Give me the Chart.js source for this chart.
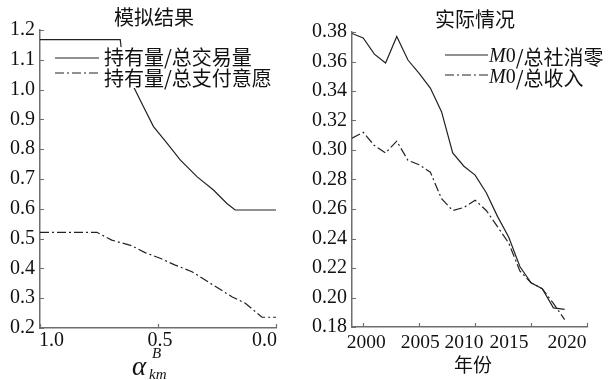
<!DOCTYPE html>
<html>
<head>
<meta charset="utf-8">
<script src="https://cdn.jsdelivr.net/npm/chart.js@4/dist/chart.umd.min.js"></script>
<style>
  html, body { margin: 0; padding: 0; background: #fff; }
  #wrap { position: relative; width: 610px; height: 380px; background: #fff; }
  #simBox { position: absolute; left: 0; top: 0; width: 300px; height: 380px; }
  #realBox { position: absolute; left: 300px; top: 0; width: 310px; height: 380px; }
</style>
</head>
<body>
<div id="wrap">
  <div id="simBox"><canvas id="sim" width="300" height="380"></canvas></div>
  <div id="realBox"><canvas id="real" width="310" height="380"></canvas></div>
</div>
<script>
// Simulation panel: holdings ratio vs alpha (x axis runs 1.0 -> 0.0)
const simAlphaTrade = [1.0, 0.66, 0.656, 0.604, 0.562, 0.519, 0.462, 0.406, 0.335, 0.265, 0.208, 0.173, 0.0];
const simHoldTrade  = [1.168, 1.168, 1.14, 1.01, 0.943, 0.876, 0.82, 0.764, 0.708, 0.663, 0.618, 0.596, 0.596];
const simAlphaPay   = [1.0, 0.759, 0.696, 0.611, 0.555, 0.491, 0.427, 0.356, 0.300, 0.244, 0.187, 0.130, 0.059, 0.0];
const simHoldPay    = [0.521, 0.521, 0.495, 0.476, 0.453, 0.434, 0.411, 0.389, 0.361, 0.333, 0.305, 0.283, 0.236, 0.236];
const simXTicks = [1.0, 0.5, 0.0];

// Observed panel: M0 ratios by year
const years = [1999, 2000, 2001, 2002, 2003, 2004, 2005, 2006, 2007, 2008,
               2009, 2010, 2011, 2012, 2013, 2014, 2015, 2016, 2017, 2018];
const m0Retail = [0.379, 0.376, 0.365, 0.359, 0.377, 0.361, 0.352, 0.342, 0.326, 0.298,
                  0.289, 0.283, 0.271, 0.255, 0.241, 0.221, 0.210, 0.206, 0.193, 0.192];
const m0Income = [0.308, 0.312, 0.303, 0.298, 0.306, 0.293, 0.290, 0.285, 0.267, 0.259,
                  0.261, 0.266, 0.259, 0.248, 0.237, 0.218, 0.210, 0.206, 0.196, 0.185];
const yearTicks = [2000, 2005, 2010, 2015, 2020];

const LINE = '#222';
const AXIS = '#6e6e6e';
const DASHDOT = [9, 3, 2, 3];
const SERIF = "'Liberation Serif', 'DejaVu Serif', serif";
const CJK = "'Noto Sans CJK SC', 'Noto Sans', sans-serif";
// horizontal nudges for the crowded year labels (px)
const YEAR_LABEL_NUDGE = [3, 1, -11, -22, -20];
// alpha labels: end labels hug the axis ends
const ALPHA_LABEL_ALIGN = [['left', -1], ['center', 2], ['right', 1]];

const pts = (xs, ys) => xs.map((x, i) => ({ x, y: ys[i] }));

// Small tick marks pointing into the plot area
const inwardTicks = {
  id: 'inwardTicks',
  afterDraw(chart) {
    const { ctx, chartArea, scales } = chart;
    ctx.save();
    ctx.strokeStyle = AXIS;
    ctx.lineWidth = 1.2;
    ctx.beginPath();
    scales.x.ticks.forEach(t => {
      const px = Math.round(scales.x.getPixelForValue(t.value)) + 0.5;
      ctx.moveTo(px, chartArea.bottom);
      ctx.lineTo(px, chartArea.bottom - 4);
    });
    scales.y.ticks.forEach(t => {
      const py = Math.round(scales.y.getPixelForValue(t.value)) + 0.5;
      ctx.moveTo(chartArea.left, py);
      ctx.lineTo(chartArea.left + 4, py);
    });
    ctx.stroke();
    ctx.restore();
  }
};

function drawSample(ctx, x0, x1, y, dash) {
  ctx.save();
  ctx.strokeStyle = LINE;
  ctx.lineWidth = 1.2;
  ctx.setLineDash(dash);
  ctx.beginPath();
  ctx.moveTo(x0, y);
  ctx.lineTo(x1, y);
  ctx.stroke();
  ctx.restore();
}

function axisScale(extra) {
  return Object.assign({
    type: 'linear',
    grid: { display: false, drawTicks: false },
    border: { display: true, color: AXIS, width: 1.5 },
    ticks: { color: '#111', font: { family: SERIF, size: 20 }, padding: 4 }
  }, extra);
}

// ---------- left panel ----------
const simText = {
  id: 'simText',
  afterDatasetsDraw(chart) {
    const ctx = chart.ctx;
    const xs = chart.scales.x;
    ctx.save();
    // legend sits on a white patch over the curve
    ctx.fillStyle = '#fff';
    ctx.fillRect(52, 47, 232, 41);
    drawSample(ctx, 55, 99, 58, []);
    drawSample(ctx, 55, 99, 73, DASHDOT);
    ctx.fillStyle = '#111';
    ctx.font = '20px ' + CJK;
    ctx.textBaseline = 'middle';
    ctx.textAlign = 'left';
    ctx.fillText('持有量/总交易量', 104, 57);
    ctx.fillText('持有量/总支付意愿', 104, 78);
    // title
    ctx.textAlign = 'center';
    ctx.fillText('模拟结果', 154, 17);
    // alpha tick labels
    ctx.font = '20px ' + SERIF;
    xs.ticks.forEach((t, i) => {
      const [align, dx] = ALPHA_LABEL_ALIGN[i];
      ctx.textAlign = align;
      ctx.fillText(Number(t.value).toFixed(1), xs.getPixelForValue(t.value) + dx, 341);
    });
    // axis title alpha^B_km
    ctx.textAlign = 'left';
    ctx.textBaseline = 'alphabetic';
    ctx.font = 'italic 27px ' + SERIF;
    ctx.fillText('α', 132, 375);
    ctx.font = 'italic 15px ' + SERIF;
    ctx.fillText('B', 152, 358);
    ctx.fillText('km', 149, 379);
    ctx.restore();
  }
};

new Chart(document.getElementById('sim'), {
  type: 'line',
  data: {
    datasets: [
      { label: '持有量/总交易量', data: pts(simAlphaTrade, simHoldTrade),
        borderColor: LINE, borderWidth: 1.2, pointRadius: 0, tension: 0 },
      { label: '持有量/总支付意愿', data: pts(simAlphaPay, simHoldPay),
        borderColor: LINE, borderWidth: 1.2, pointRadius: 0, tension: 0, borderDash: DASHDOT }
    ]
  },
  options: {
    responsive: false,
    animation: false,
    devicePixelRatio: 1,
    layout: { padding: { left: 0, right: 24, top: 30, bottom: 0 } },
    plugins: { legend: { display: false }, tooltip: { enabled: false } },
    scales: {
      x: axisScale({
        min: 0, max: 1, reverse: true,
        afterBuildTicks: s => { s.ticks = simXTicks.map(v => ({ value: v })); },
        afterFit: s => { s.height = 52; },
        ticks: { display: false }
      }),
      y: axisScale({
        min: 0.2, max: 1.2,
        afterFit: s => { s.width = 40; },
        ticks: { color: '#111', font: { family: SERIF, size: 20 }, padding: 5,
                 stepSize: 0.1, callback: v => Number(v).toFixed(1) }
      })
    }
  },
  plugins: [inwardTicks, simText]
});

// ---------- right panel ----------
const realText = {
  id: 'realText',
  afterDatasetsDraw(chart) {
    const ctx = chart.ctx;
    const xs = chart.scales.x;
    ctx.save();
    drawSample(ctx, 145, 188, 55, []);
    drawSample(ctx, 145, 188, 75, DASHDOT);
    ctx.fillStyle = '#111';
    ctx.textBaseline = 'middle';
    ctx.textAlign = 'left';
    const rows = [['/总社消零', 57], ['/总收入', 78]];
    rows.forEach(([rest, y]) => {
      ctx.font = 'italic 20px ' + SERIF;
      ctx.fillText('M', 189, y);
      const wM = ctx.measureText('M').width;
      ctx.font = '20px ' + SERIF;
      ctx.fillText('0', 189 + wM, y);
      const w0 = ctx.measureText('0').width;
      ctx.font = '20px ' + CJK;
      ctx.fillText(rest, 189 + wM + w0, y);
    });
    // year labels along the x axis
    ctx.textAlign = 'center';
    ctx.font = '19.5px ' + SERIF;
    xs.ticks.forEach((t, i) => {
      ctx.fillText(String(t.value), xs.getPixelForValue(t.value) + YEAR_LABEL_NUDGE[i], 343);
    });
    ctx.font = '20px ' + CJK;
    ctx.fillText('实际情况', 175, 19);
    ctx.font = '19px ' + CJK;
    ctx.fillText('年份', 173, 365);
    ctx.restore();
  }
};

new Chart(document.getElementById('real'), {
  type: 'line',
  data: {
    datasets: [
      { label: 'M0/总社消零', data: pts(years, m0Retail),
        borderColor: LINE, borderWidth: 1.2, pointRadius: 0, tension: 0 },
      { label: 'M0/总收入', data: pts(years, m0Income),
        borderColor: LINE, borderWidth: 1.2, pointRadius: 0, tension: 0, borderDash: DASHDOT }
    ]
  },
  options: {
    responsive: false,
    animation: false,
    devicePixelRatio: 1,
    layout: { padding: { left: 0, right: 23, top: 32, bottom: 0 } },
    plugins: { legend: { display: false }, tooltip: { enabled: false } },
    scales: {
      x: axisScale({
        min: 1999, max: 2020,
        afterBuildTicks: s => { s.ticks = yearTicks.map(v => ({ value: v })); },
        afterFit: s => { s.height = 53; },
        ticks: { display: false }
      }),
      y: axisScale({
        min: 0.18, max: 0.38,
        afterFit: s => { s.width = 52; },
        ticks: { color: '#111', font: { family: SERIF, size: 20 }, padding: 5,
                 stepSize: 0.02, callback: v => Number(v).toFixed(2) }
      })
    }
  },
  plugins: [inwardTicks, realText]
});
</script>
</body>
</html>
